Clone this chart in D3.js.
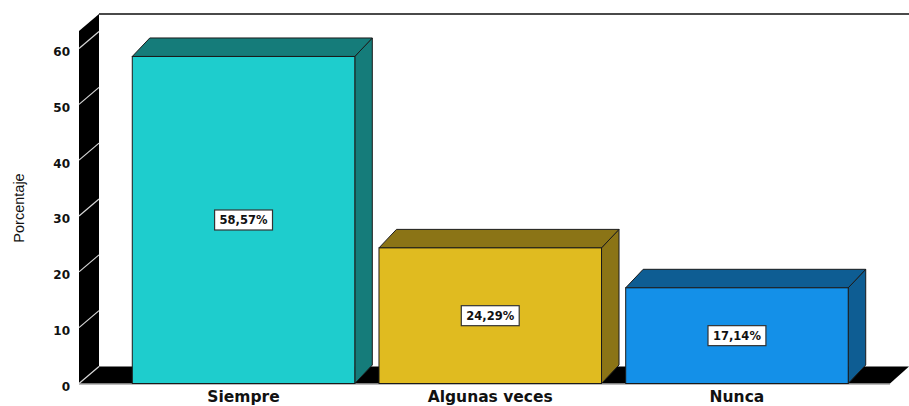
<!DOCTYPE html>
<html>
<head>
<meta charset="utf-8">
<script src="https://cdn.jsdelivr.net/npm/d3@7"></script>
<style>
  html, body { margin: 0; padding: 0; background: #fff; }
  svg { display: block; }
</style>
</head>
<body>
<svg id="chart" width="909" height="406"></svg>
<script>
// Response categories and their percentages
const categories = ["Siempre", "Algunas veces", "Nunca"];
const values = [58.57, 24.29, 17.14];
const valueLabels = ["58,57%", "24,29%", "17,14%"];
const yTicks = [0, 10, 20, 30, 40, 50, 60];
const yTitle = "Porcentaje";

// Face colours per bar: front, and shaded top/side
const frontColors = ["#1ecdcd", "#e0bb20", "#1490e8"];
const shadeColors = ["#157c7a", "#8b7416", "#0e5d93"];

const svg = d3.select("#chart");

// Front plane of the 3D box
const y = d3.scaleLinear().domain([0, 60]).range([383.5, 48.5]);
const x = d3.scaleBand().domain(categories).range([108.1, 872.4]).padding(0.098);

const frontLeft = 79, frontRight = 890;
const wallDx = 20, wallDy = -17;   // depth of the walls/floor
const barDx = 17.5, barDy = -18.5; // depth of each bar
const wallTopFront = 31;
const base = y(0);

// Back wall top border
svg.append("line")
  .attr("x1", frontLeft + wallDx).attr("y1", wallTopFront + wallDy)
  .attr("x2", 909).attr("y2", wallTopFront + wallDy)
  .attr("stroke", "#4a4a4a").attr("stroke-width", 2);

// Floor
svg.append("polygon")
  .attr("points", [
    [frontLeft, base], [frontLeft + wallDx, base + wallDy],
    [909, base + wallDy], [frontRight, base]
  ].map(p => p.join(",")).join(" "))
  .attr("fill", "#000");
svg.append("line")
  .attr("x1", frontLeft).attr("x2", frontRight)
  .attr("y1", base + 1).attr("y2", base + 1)
  .attr("stroke", "#bbb").attr("stroke-width", 1);

// Left wall
svg.append("polygon")
  .attr("points", [
    [frontLeft, wallTopFront], [frontLeft + wallDx, wallTopFront + wallDy],
    [frontLeft + wallDx, base + wallDy], [frontLeft, base]
  ].map(p => p.join(",")).join(" "))
  .attr("fill", "#000");

// Diagonal tick marks on the wall
svg.append("g").selectAll("line").data(yTicks).join("line")
  .attr("x1", frontLeft).attr("y1", d => y(d))
  .attr("x2", frontLeft + wallDx).attr("y2", d => y(d) + wallDy)
  .attr("stroke", "#d8d8d8").attr("stroke-width", 1.2);

// Tick labels
const yAxis = d3.axisLeft(y).tickValues(yTicks).tickSize(0).tickPadding(0);
const yg = svg.append("g").attr("transform", "translate(70,0)").call(yAxis);
yg.select(".domain").remove();
yg.selectAll("text")
  .attr("dy", "0.58em")
  .attr("fill", "#111")
  .style("font-family", "'DejaVu Sans', sans-serif")
  .style("font-weight", "bold")
  .style("font-size", "12px");

// Y axis title
svg.append("text")
  .attr("transform", "translate(24,208) rotate(-90)")
  .attr("text-anchor", "middle")
  .style("font-family", "'Liberation Sans', Arial, sans-serif")
  .style("font-size", "14.5px")
  .attr("fill", "#111")
  .text(yTitle);

// 3D bars
const edge = "#1a1a1a";
const bars = svg.append("g").selectAll("g").data(categories).join("g");
bars.each(function (c, i) {
  const g = d3.select(this);
  const x0 = x(c), x1 = x(c) + x.bandwidth();
  const yt = y(values[i]);
  const pts = a => a.map(p => p.join(",")).join(" ");
  // side face
  g.append("polygon")
    .attr("points", pts([[x1, yt], [x1 + barDx, yt + barDy], [x1 + barDx, base + barDy], [x1, base]]))
    .attr("fill", shadeColors[i]).attr("stroke", edge).attr("stroke-width", 1).attr("stroke-linejoin", "round");
  // top face
  g.append("polygon")
    .attr("points", pts([[x0, yt], [x0 + barDx, yt + barDy], [x1 + barDx, yt + barDy], [x1, yt]]))
    .attr("fill", shadeColors[i]).attr("stroke", edge).attr("stroke-width", 1).attr("stroke-linejoin", "round");
  // front face
  g.append("rect")
    .attr("x", x0).attr("y", yt).attr("width", x1 - x0).attr("height", base - yt)
    .attr("fill", frontColors[i]).attr("stroke", edge).attr("stroke-width", 1);

  // value label box
  const cx = (x0 + x1) / 2, cy = (yt + base) / 2;
  const t = g.append("text")
    .attr("x", cx).attr("y", cy).attr("dy", "0.36em")
    .attr("text-anchor", "middle")
    .style("font-family", "'DejaVu Sans', sans-serif")
    .style("font-weight", "bold")
    .style("font-size", "11.5px")
    .attr("fill", "#111")
    .text(valueLabels[i]);
  const w = t.node().getComputedTextLength() + 10;
  g.insert("rect", "text")
    .attr("x", cx - w / 2).attr("y", cy - 10).attr("width", w).attr("height", 20)
    .attr("fill", "#fff").attr("stroke", "#333").attr("stroke-width", 1.2);
});

// Category labels
svg.append("g").selectAll("text").data(categories).join("text")
  .attr("x", d => x(d) + x.bandwidth() / 2)
  .attr("y", 402)
  .attr("text-anchor", "middle")
  .style("font-family", "'DejaVu Sans', sans-serif")
  .style("font-weight", "bold")
  .style("font-size", "15.5px")
  .attr("fill", "#111")
  .text(d => d);
</script>
</body>
</html>
